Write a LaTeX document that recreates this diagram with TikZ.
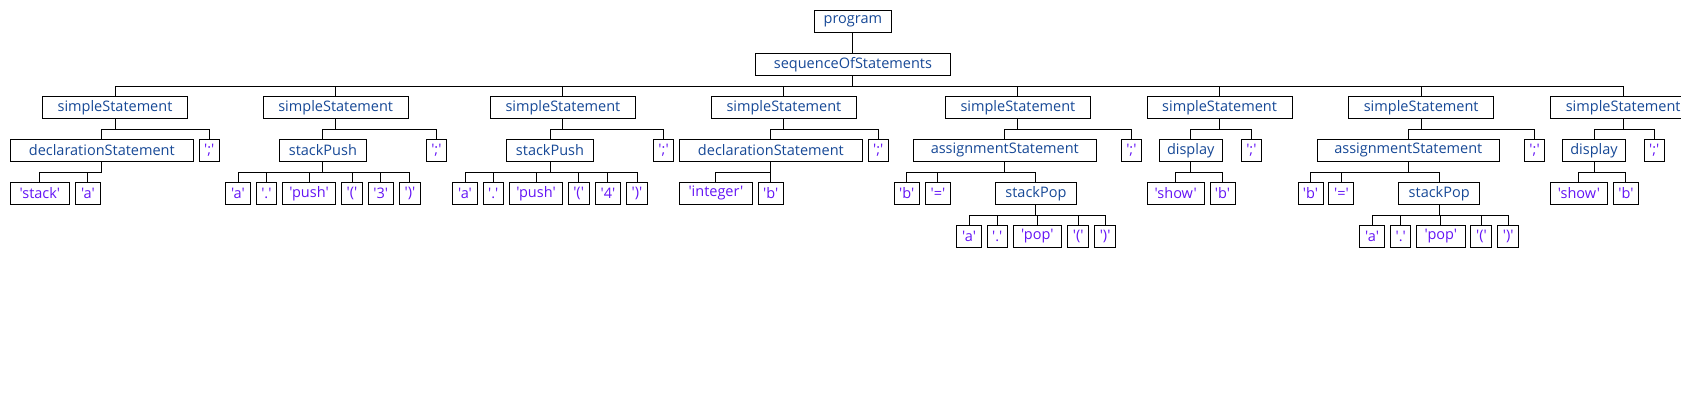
\documentclass[tikz,border=0pt]{standalone}
\usepackage{fontspec}
\setmainfont{Open Sans}[Ligatures=TeXOff]
\definecolor{ntc}{RGB}{22,72,150}
\definecolor{tmc}{RGB}{100,20,245}
\tikzset{
  box/.style={draw=black, line width=1pt, inner sep=0pt, minimum height=22pt, font=\fontsize{14.5}{16}\selectfont, anchor=center},
  nt/.style={box, text=ntc},
  tm/.style={box, text=tmc},
  edge/.style={draw=black, line width=1pt}
}
\newcommand\bx[5]{\node[#1, minimum width=#4pt] (#2) at (#3) {#5};}
\newcommand\kid[2]{\draw[edge] (#1.south) -- ++(0,11) -| (#2.north);}
\begin{document}
\begin{tikzpicture}[x=1pt,y=-1pt]
\useasboundingbox (0,0) rectangle (1681,418);
\clip (0,0) rectangle (1681,418);
% rows: 21.3, 64.3, 107.3, 150.3, 193.3, 236.3
\bx{nt}{prog}{852.9,21.3}{77.1}{program}
\bx{nt}{seq}{852.9,64.3}{195}{sequenceOfStatements}
% statement 1
\bx{nt}{ssA}{115,107.3}{145}{simpleStatement}
\bx{nt}{declA}{101.8,150.3}{182.8}{declarationStatement}
\bx{tm}{semiA}{209.3,150.3}{20}{';'}
\bx{tm}{stackA}{39.9,193.3}{58.9}{'stack'}
\bx{tm}{aA}{87.9,193.3}{25}{'a'}
% statement 2
\bx{nt}{ssB}{335.7,107.3}{145}{simpleStatement}
\bx{nt}{pushB}{322.9,150.3}{87.1}{stackPush}
\bx{tm}{semiB}{436.4,150.3}{20}{';'}
\bx{tm}{aB}{238,193.3}{25.3}{'a'}
\bx{tm}{dotB}{266.4,193.3}{20}{'.'}
\bx{tm}{kwB}{309,193.3}{53}{'push'}
\bx{tm}{lpB}{352,193.3}{21}{'('}
\bx{tm}{numB}{380.7,193.3}{25}{'3'}
\bx{tm}{rpB}{409.9,193.3}{21}{')'}
% statement 3
\bx{nt}{ssC}{562.9,107.3}{145}{simpleStatement}
\bx{nt}{pushC}{550,150.3}{87.2}{stackPush}
\bx{tm}{semiC}{663.6,150.3}{20}{';'}
\bx{tm}{aC}{465,193.3}{25}{'a'}
\bx{tm}{dotC}{493.2,193.3}{20}{'.'}
\bx{tm}{kwC}{536,193.3}{53}{'push'}
\bx{tm}{lpC}{578.6,193.3}{21}{'('}
\bx{tm}{numC}{607.9,193.3}{25}{'4'}
\bx{tm}{rpC}{637,193.3}{21}{')'}
% statement 4
\bx{nt}{ssD}{783.9,107.3}{145}{simpleStatement}
\bx{nt}{declD}{770.9,150.3}{183}{declarationStatement}
\bx{tm}{semiD}{878.2,150.3}{20}{';'}
\bx{tm}{intD}{715.9,193.3}{73.2}{'integer'}
\bx{tm}{bD}{770.7,193.3}{25}{'b'}
% statement 5
\bx{nt}{ssE}{1017.9,107.3}{145}{simpleStatement}
\bx{nt}{asgE}{1004.8,150.3}{183.2}{assignmentStatement}
\bx{tm}{semiE}{1131.4,150.3}{20}{';'}
\bx{tm}{bE}{906.8,193.3}{25}{'b'}
\bx{tm}{eqE}{937.9,193.3}{25}{'='}
\bx{nt}{popE}{1035.9,193.3}{81}{stackPop}
\bx{tm}{aE}{969.1,236.3}{25}{'a'}
\bx{tm}{dotE}{997.3,236.3}{20}{'.'}
\bx{tm}{kwE}{1037.3,236.3}{48.2}{'pop'}
\bx{tm}{lpE}{1078.2,236.3}{21}{'('}
\bx{tm}{rpE}{1105.1,236.3}{21}{')'}
% statement 6
\bx{nt}{ssF}{1219.6,107.3}{145}{simpleStatement}
\bx{nt}{dispF}{1190.7,150.3}{62.8}{display}
\bx{tm}{semiF}{1251.4,150.3}{20}{';'}
\bx{tm}{showF}{1175.7,193.3}{57.2}{'show'}
\bx{tm}{bF}{1222.5,193.3}{25}{'b'}
% statement 7
\bx{nt}{ssG}{1421.2,107.3}{145}{simpleStatement}
\bx{nt}{asgG}{1408.3,150.3}{182.5}{assignmentStatement}
\bx{tm}{semiG}{1534.6,150.3}{20}{';'}
\bx{tm}{bG}{1310.5,193.3}{25}{'b'}
\bx{tm}{eqG}{1341.4,193.3}{25}{'='}
\bx{nt}{popG}{1439.2,193.3}{81}{stackPop}
\bx{tm}{aG}{1372.1,236.3}{25}{'a'}
\bx{tm}{dotG}{1400.7,236.3}{20}{'.'}
\bx{tm}{kwG}{1440.9,236.3}{48.2}{'pop'}
\bx{tm}{lpG}{1481.4,236.3}{21}{'('}
\bx{tm}{rpG}{1508.2,236.3}{21}{')'}
% statement 8
\bx{nt}{ssH}{1623.2,107.3}{145}{simpleStatement}
\bx{nt}{dispH}{1594,150.3}{62.9}{display}
\bx{tm}{semiH}{1654.3,150.3}{20}{';'}
\bx{tm}{showH}{1578.9,193.3}{56.4}{'show'}
\bx{tm}{bH}{1625.9,193.3}{25}{'b'}
% connectors
\draw[edge] (prog.south) -- (seq.north);
\foreach \c in {ssA,ssB,ssC,ssD,ssE,ssF,ssG,ssH}{\kid{seq}{\c}}
\kid{ssA}{declA}\kid{ssA}{semiA}
\kid{declA}{stackA}\kid{declA}{aA}
\kid{ssB}{pushB}\kid{ssB}{semiB}
\foreach \c in {aB,dotB,kwB,lpB,numB,rpB}{\kid{pushB}{\c}}
\kid{ssC}{pushC}\kid{ssC}{semiC}
\foreach \c in {aC,dotC,kwC,lpC,numC,rpC}{\kid{pushC}{\c}}
\kid{ssD}{declD}\kid{ssD}{semiD}
\kid{declD}{intD}\kid{declD}{bD}
\kid{ssE}{asgE}\kid{ssE}{semiE}
\foreach \c in {bE,eqE,popE}{\kid{asgE}{\c}}
\foreach \c in {aE,dotE,kwE,lpE,rpE}{\kid{popE}{\c}}
\kid{ssF}{dispF}\kid{ssF}{semiF}
\kid{dispF}{showF}\kid{dispF}{bF}
\kid{ssG}{asgG}\kid{ssG}{semiG}
\foreach \c in {bG,eqG,popG}{\kid{asgG}{\c}}
\foreach \c in {aG,dotG,kwG,lpG,rpG}{\kid{popG}{\c}}
\kid{ssH}{dispH}\kid{ssH}{semiH}
\kid{dispH}{showH}\kid{dispH}{bH}
\end{tikzpicture}
\end{document}
